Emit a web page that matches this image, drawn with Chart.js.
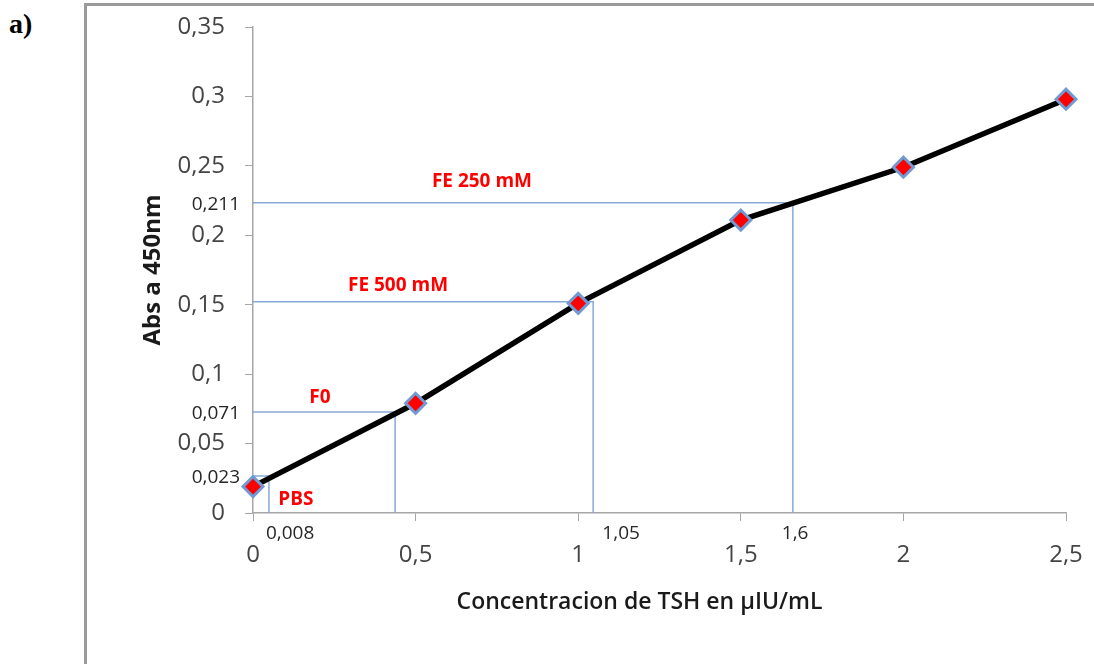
<!DOCTYPE html>
<html lang="es">
<head>
  <meta charset="UTF-8">
  <title>Curva de calibracion TSH</title>
  <script src="https://cdn.jsdelivr.net/npm/chart.js"></script>
<style>
    body {
        margin: 0;
        background-color: #ffffff;
    }

    .frame {
        position: absolute;
        left: 84px;
        top: 3px;
        width: 1100px;
        height: 700px;
        border-left: 3px solid #9a9a9a;
        border-top: 3px solid #9a9a9a;
    }

    .tag {
        position: absolute;
        left: 9px;
        top: 8px;
        font: bold 28px "Liberation Serif", serif;
    }

    .chart-container {
        position: absolute;
        left: 0;
        top: 0;
        width: 1094px;
        height: 664px;
    }
</style>
</head>
<body>
<div class="frame"></div>
<div class="tag">a)</div>
<div class="chart-container">
  <canvas id="myChart"></canvas>
</div>

<script>
    const concentration = [0, 0.5, 1, 1.5, 2, 2.5];
    const absorbance = [0.019, 0.079, 0.151, 0.211, 0.249, 0.298];

    // guide lines dropped from the curve to both axes (PBS, F0, FE 500, FE 250)
    const guideConc = [0.049, 0.437, 1.046, 1.660];
    const guideAbs = [0.0266, 0.0727, 0.1522, 0.2235];

    const sampleNames = ['PBS', 'F0', 'FE 500 mM', 'FE 250 mM'];
    const sampleNameX = [0.132, 0.206, 0.446, 0.704];
    const sampleNameY = [0.010, 0.083, 0.1635, 0.239];

    const absLabels = ['0,023', '0,071', '0,211'];
    const absLabelY = [0.0266, 0.0727, 0.2235];
    const concLabels = ['0,008', '1,05', '1,6'];
    const concLabelX = [0.114, 1.132, 1.667];

    const xTitle = 'Concentracion de TSH en µIU/mL';
    const yTitle = 'Abs a 450nm';

    function comma(v) {
        return Number(v.toFixed(2)).toString().replace('.', ',');
    }

    const datasets = [{
        label: 'Curva',
        data: concentration.map((c, i) => ({x: c, y: absorbance[i]})),
        showLine: true,
        borderColor: '#000000',
        borderWidth: 5.5,
        pointStyle: 'rectRot',
        pointRadius: 10,
        pointBackgroundColor: '#ff0000',
        pointBorderColor: '#6f9ad3',
        pointBorderWidth: 3,
        clip: false,
        order: 0
    }];

    guideConc.forEach((c, i) => {
        datasets.push({
            label: sampleNames[i],
            data: [{x: 0, y: guideAbs[i]}, {x: c, y: guideAbs[i]}, {x: c, y: 0}],
            showLine: true,
            borderColor: '#88a9d6',
            borderWidth: 1.5,
            pointRadius: 0,
            order: 1
        });
    });

    const annotations = {
        id: 'annotations',
        afterDraw(chart) {
            const {ctx, chartArea, scales: {x, y}} = chart;
            ctx.save();
            ctx.textBaseline = 'middle';
            ctx.textAlign = 'center';
            ctx.fillStyle = '#ff0000';
            ctx.font = 'bold 19px "Open Sans"';
            sampleNames.forEach((t, i) => {
                ctx.fillText(t, x.getPixelForValue(sampleNameX[i]), y.getPixelForValue(sampleNameY[i]));
            });

            ctx.fillStyle = '#262626';
            ctx.font = '19px "Open Sans"';
            ctx.textAlign = 'right';
            absLabels.forEach((t, i) => {
                ctx.fillText(t, chartArea.left - 13, y.getPixelForValue(absLabelY[i]) + 2);
            });
            ctx.textAlign = 'center';
            concLabels.forEach((t, i) => {
                ctx.fillText(t, x.getPixelForValue(concLabelX[i]), chartArea.bottom + 21);
            });

            ctx.fillStyle = '#1a1a1a';
            ctx.font = '600 23px "Open Sans"';
            ctx.fillText(xTitle, (chartArea.left + chartArea.right) / 2 - 20, chartArea.bottom + 89);

            ctx.translate(chartArea.left - 100, (chartArea.top + chartArea.bottom) / 2);
            ctx.rotate(-Math.PI / 2);
            ctx.font = 'bold 24px "Open Sans"';
            ctx.fillText(yTitle, 0, 0);
            ctx.restore();
        }
    };

    const axisGrid = {
        display: true,
        drawOnChartArea: false,
        drawTicks: true,
        tickLength: 8,
        color: '#a6a6a6'
    };

    const config = {
        type: 'scatter',
        data: {datasets: datasets},
        options: {
            responsive: true,
            maintainAspectRatio: false,
            animation: false,
            layout: {
                padding: {top: 27, right: 28, left: 0, bottom: 0}
            },
            plugins: {
                legend: {display: false},
                tooltip: {enabled: false}
            },
            scales: {
                x: {
                    type: 'linear',
                    min: 0,
                    max: 2.5,
                    grid: axisGrid,
                    border: {color: '#a6a6a6', width: 1.5},
                    ticks: {
                        stepSize: 0.5,
                        padding: 20,
                        color: '#454545',
                        font: {family: 'Open Sans', size: 24},
                        callback: comma
                    },
                    afterFit(scale) {
                        scale.height = 151;
                        scale.paddingLeft = 0;
                        scale.paddingRight = 0;
                    }
                },
                y: {
                    min: 0,
                    max: 0.35,
                    grid: axisGrid,
                    border: {color: '#a6a6a6', width: 1.5},
                    ticks: {
                        stepSize: 0.05,
                        padding: 20,
                        color: '#454545',
                        font: {family: 'Open Sans', size: 24},
                        callback: comma
                    },
                    afterFit(scale) {
                        scale.width = 253;
                        scale.paddingTop = 0;
                        scale.paddingBottom = 0;
                    }
                }
            }
        },
        plugins: [annotations]
    };

    const myChart = new Chart(document.getElementById('myChart'), config);
</script>
</body>
</html>
